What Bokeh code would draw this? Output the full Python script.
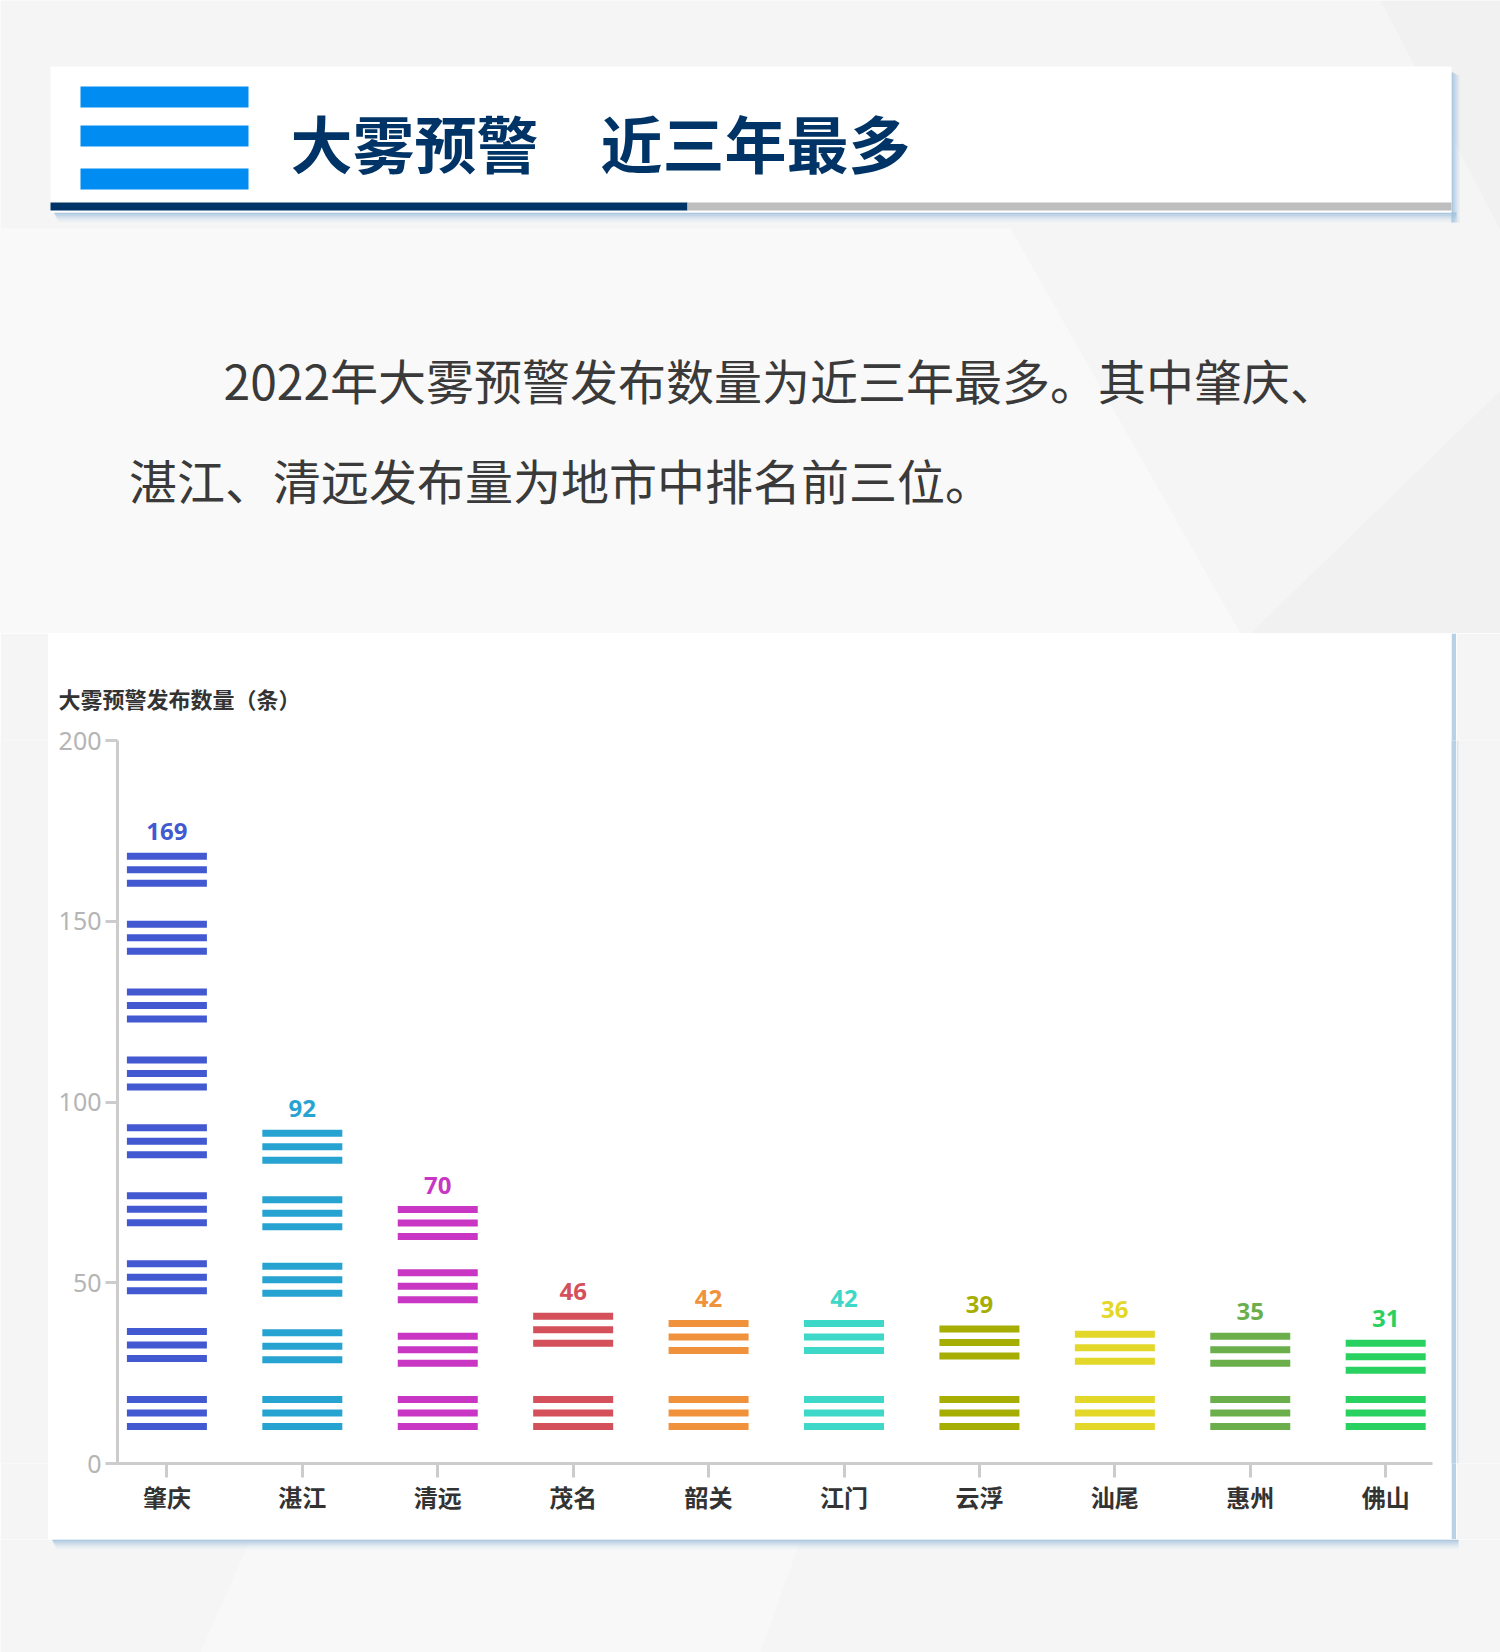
from bokeh.plotting import figure
from bokeh.layouts import column, row
from bokeh.models import Range1d, FixedTicker
from bokeh.core.properties import value
from bokeh.embed import file_html
from bokeh.resources import INLINE

# ---------------- data ----------------
cities = ["肇庆", "湛江", "清远", "茂名", "韶关", "江门", "云浮", "汕尾", "惠州", "佛山"]
counts = [169, 92, 70, 46, 42, 42, 39, 36, 35, 31]
colors = ["#4259D2", "#27A3D1", "#C936C3", "#D4505A", "#F0923B",
          "#3ED8C8", "#A6AE04", "#E3D72A", "#6BAF4C", "#28D160"]
y_ticks = [0, 50, 100, 150, 200]
y_title = "大雾预警发布数量（条）"
header_title = "大雾预警\u3000近三年最多"
paragraph = ["2022年大雾预警发布数量为近三年最多。其中肇庆、",
             "湛江、清远发布量为地市中排名前三位。"]

# ---------------- style ----------------
BG = "#F5F5F5"
SHADOW = "#9EC0DC"
CJK = "Noto Sans CJK SC"
GROUP_UNIT = 18.5      # value units represented by one stripe group
BASE = 14.0            # centre of the first stripe group (value units)
PX_PER_UNIT = 723 / 200
STRIPE_GAP = 13.5 / PX_PER_UNIT
TOP_B, BOT_B = 107, 76  # chart borders (frame is aligned across the row)
FRAME_Y0, FRAME_Y1 = 633 + TOP_B, 1539 - BOT_B


def deco(x0, x1, y0, y1, **kw):
    f = figure(width=int(round(x1 - x0)), height=kw.pop("height", int(round(y1 - y0))),
               x_range=Range1d(x0, x1), y_range=Range1d(y1, y0),
               x_axis_type=None, y_axis_type=None,
               output_backend="svg", toolbar_location=None,
               min_border_left=0, min_border_right=0,
               min_border_top=kw.pop("top", 0), min_border_bottom=kw.pop("bottom", 0),
               background_fill_color=kw.get("fill", BG),
               border_fill_color=kw.get("fill", BG),
               outline_line_color=None)
    return f


def shadow_h(f, x0, x1, y0):
    for k, a in enumerate([0.85, 0.6, 0.38, 0.18, 0.07]):
        f.quad(left=x0 + k, right=x1, top=y0 + 2 * k, bottom=y0 + 2 * k + 2,
               fill_color=SHADOW, fill_alpha=a, line_color=None)


def shadow_v(f, x0, y0, y1):
    for k, a in enumerate([0.85, 0.6, 0.38, 0.18]):
        f.quad(left=x0 + 2 * k, right=x0 + 2 * k + 2, top=y0 + k, bottom=y1,
               fill_color=SHADOW, fill_alpha=a, line_color=None)


# ---------------- top area ----------------
T = deco(0, 1500, 0, 633)
T.patch([0, 1010, 1240, 0], [228, 228, 633, 633], fill_color="#F9F9F9", line_color=None)
T.patch([1180, 1500, 1500, 1380], [0, 0, 230, 0], fill_color="#F1F1F1", line_color=None)
T.patch([1250, 1500, 1500], [633, 390, 633], fill_color="#F1F1F1", line_color=None)
shadow_h(T, 54, 1456, 212)
shadow_v(T, 1451, 72, 222)
T.quad(left=50, right=1451, top=66, bottom=212, fill_color="white", line_color=None)
T.quad(left=80, right=248, top=[86, 125, 168], bottom=[107, 146, 189],
       fill_color="#008CF0", line_color=None)
T.quad(left=50, right=687, top=202, bottom=210, fill_color="#003466", line_color=None)
T.quad(left=687, right=1451, top=202, bottom=210, fill_color="#BEBEBE", line_color=None)
T.text(x=[290], y=[141], text=[header_title], text_font=value(CJK),
       text_font_style="bold", text_font_size="62px", text_color="#003466",
       text_align="left", text_baseline="middle")
T.text(x=[223, 128.5], y=[378, 478], text=paragraph, text_font=value(CJK),
       text_font_size="48px", text_color="#3A3A3A",
       text_align="left", text_baseline="middle")

# ---------------- chart ----------------
C = figure(width=1403, height=906,
           x_range=Range1d(-0.3648, 9.3457), y_range=Range1d(0, 200),
           output_backend="svg", toolbar_location=None,
           min_border_left=69, min_border_right=19,
           min_border_top=TOP_B, min_border_bottom=BOT_B,
           background_fill_color="white", border_fill_color="white",
           outline_line_color=None, title=y_title)
C.grid.visible = False

sx, sy, sc = [], [], []
tops = []
for i, (v, c) in enumerate(zip(counts, colors)):
    n = max(1, round(v / GROUP_UNIT))
    step = v / n
    centres = [BASE + g * step for g in range(n)]
    tops.append(centres[-1])
    for ctr in centres:
        for k in (-1, 0, 1):
            sx.append(i)
            sy.append(ctr + k * STRIPE_GAP)
            sc.append(c)

C.rect(x=sx, y=sy, width=80, height=7, width_units="screen", height_units="screen",
       fill_color=sc, line_color=None)
C.text(x=list(range(len(cities))), y=tops, text=[str(v) for v in counts],
       y_offset=-38, text_color=colors, text_font=value("Noto Sans"),
       text_font_style="bold", text_font_size="24px",
       text_align="center", text_baseline="middle")

for ax in (C.xaxis, C.yaxis):
    ax.axis_line_color = "#CCCCCC"
    ax.axis_line_width = 3
    ax.major_tick_line_color = "#CCCCCC"
    ax.major_tick_line_width = 3
    ax.major_tick_in = 0
    ax.minor_tick_line_color = None

C.yaxis.ticker = FixedTicker(ticks=y_ticks)
C.yaxis.major_tick_out = 12
C.yaxis.major_label_standoff = 4
C.yaxis.major_label_text_color = "#B5B5B5"
C.yaxis.major_label_text_font = "Noto Sans"
C.yaxis.major_label_text_font_size = "25px"

C.xaxis.ticker = FixedTicker(ticks=list(range(len(cities))))
C.xaxis.major_label_overrides = {i: name for i, name in enumerate(cities)}
C.xaxis.major_tick_out = 14
C.xaxis.major_label_standoff = 1
C.xaxis.major_label_text_color = "#333333"
C.xaxis.major_label_text_font = CJK
C.xaxis.major_label_text_font_style = "bold"
C.xaxis.major_label_text_font_size = "24px"

C.title.align = "left"
C.title.offset = -59
C.title.standoff = 54
C.title.text_font = CJK
C.title.text_font_style = "bold"
C.title.text_font_size = "22px"
C.title.text_color = "#333333"

# side strips of the chart row (frames aligned with the chart frame)
L = deco(0, 48, FRAME_Y0, FRAME_Y1, height=906, top=TOP_B, bottom=BOT_B)
RS = deco(1451, 1456, FRAME_Y0, FRAME_Y1, height=906, top=TOP_B, bottom=BOT_B,
          fill="#B9D1E5")
R = deco(1456, 1500, FRAME_Y0, FRAME_Y1, height=906, top=TOP_B, bottom=BOT_B)
R.quad(left=1456, right=1458, top=FRAME_Y0, bottom=FRAME_Y1,
       fill_color=SHADOW, fill_alpha=0.3, line_color=None)

B = deco(0, 1500, 1539, 1652)
B.patch([250, 800, 760, 200], [1539, 1539, 1652, 1652], fill_color="#F8F8F8", line_color=None)
shadow_h(B, 52, 1458, 1539)

layout = column(T, row(L, C, RS, R, spacing=0), B, spacing=0)

open("out.html", "w").write(file_html(layout, INLINE))
